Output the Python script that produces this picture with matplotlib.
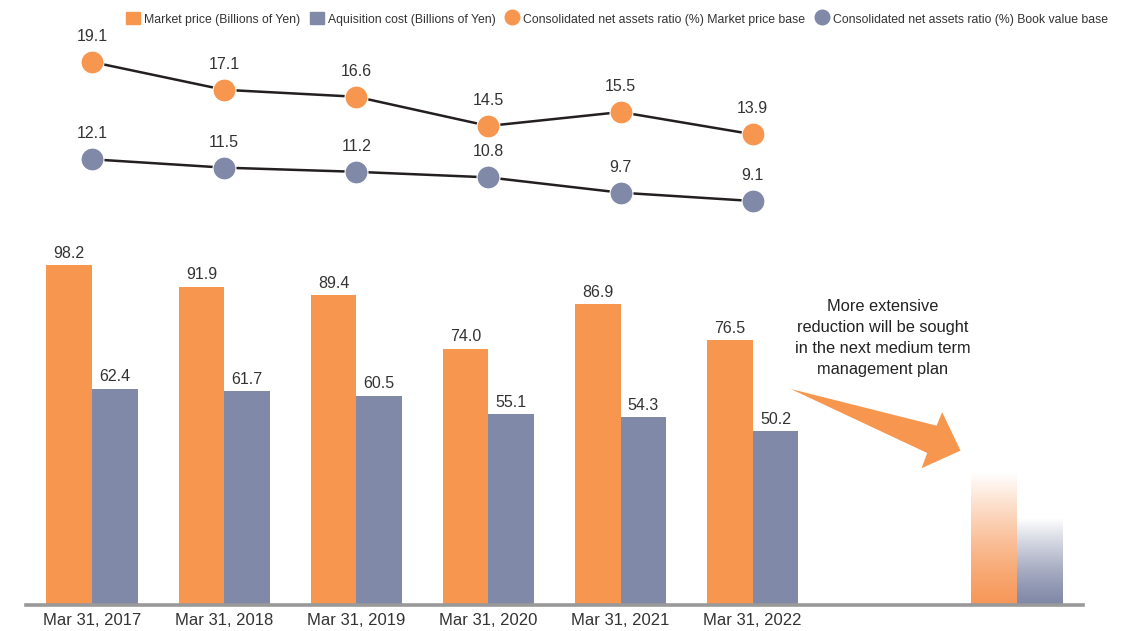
import matplotlib.pyplot as plt
import numpy as np
from matplotlib.patches import Patch, Polygon
from matplotlib.lines import Line2D
from matplotlib.colors import LinearSegmentedColormap

# dados
years = ['Mar 31, 2017', 'Mar 31, 2018', 'Mar 31, 2019',
         'Mar 31, 2020', 'Mar 31, 2021', 'Mar 31, 2022']
market_price = [98.2, 91.9, 89.4, 74.0, 86.9, 76.5]
acquisition_cost = [62.4, 61.7, 60.5, 55.1, 54.3, 50.2]
ratio_market = [19.1, 17.1, 16.6, 14.5, 15.5, 13.9]
ratio_book = [12.1, 11.5, 11.2, 10.8, 9.7, 9.1]
# barras da meta futura (ilustrativas)
target_pos = 7
target_market = 38.4
target_cost = 24.9

ORANGE = '#F7964F'
GRAY = '#8189A8'
TEXT = '#333333'

plt.rcParams['font.family'] = ['Liberation Sans', 'DejaVu Sans']

W, H = 1138, 631
fig = plt.figure(figsize=(W / 100, H / 100), dpi=100)

# eixo das barras
ax = fig.add_axes([26 / W, (H - 605) / H, (1083 - 26) / W, 375 / H])
x = np.arange(len(years))
bw = 0.345
b1 = ax.bar(x - bw / 2, market_price, bw, color=ORANGE)
b2 = ax.bar(x + bw / 2, acquisition_cost, bw, color=GRAY)
for bars in (b1, b2):
    for b in bars:
        ax.text(b.get_x() + b.get_width() / 2, b.get_height() + 1.3,
                f'{b.get_height():.1f}', ha='center', va='bottom',
                fontsize=11.5, color=TEXT)

# barras com degradê
def gradient_bar(x0, h, color):
    cmap = LinearSegmentedColormap.from_list('g', [color, 'white'])
    grad = np.linspace(0, 1, 256).reshape(-1, 1) ** 1.3
    ax.imshow(grad, extent=(x0, x0 + bw, 0, h), origin='lower',
              aspect='auto', cmap=cmap, vmin=0, vmax=1, zorder=2)

gradient_bar(target_pos - bw, target_market, '#F7985A')
gradient_bar(target_pos, target_cost, '#8189A8')

# seta e texto
arrow = Polygon([(5.288, 62.4), (6.392, 51.8), (6.434, 55.7), (6.573, 44.6),
                 (6.278, 39.5), (6.321, 43.9)], closed=True,
                facecolor=ORANGE, edgecolor='none', zorder=3)
ax.add_patch(arrow)
ax.text(5.985, 77.0, 'More extensive\nreduction will be sought\nin the next medium term\nmanagement plan',
        ha='center', va='center', fontsize=11.8, color='#222222',
        linespacing=1.5)

ax.set_xlim(-0.5, 7.5)
ax.set_ylim(0, 375 / 3.462)
ax.set_xticks(x)
ax.set_xticklabels(years, fontsize=12, color=TEXT)
ax.tick_params(axis='x', length=0, pad=6)
ax.set_yticks([])
for s in ('top', 'left', 'right'):
    ax.spines[s].set_visible(False)
ax.spines['bottom'].set_color('#999999')
ax.spines['bottom'].set_linewidth(2.6)

# eixo das linhas
ax2 = fig.add_axes([26 / W, (H - 215) / H, (1083 - 26) / W, 175 / H])
ax2.set_xlim(-0.5, 7.5)
ax2.set_ylim(19.1 - 153 / 13.9, 19.1 + 22 / 13.9)
ax2.axis('off')
for vals, col in ((ratio_market, ORANGE), (ratio_book, GRAY)):
    ax2.plot(x, vals, color='#231F20', lw=1.8, zorder=1)
    ax2.plot(x, vals, 'o', ms=16.5, color=col, mec='white', mew=0.8, zorder=2)
    for xi, v in zip(x, vals):
        ax2.annotate(f'{v:.1f}', (xi, v), xytext=(0, 13), textcoords='offset points',
                     ha='center', va='bottom', fontsize=11.5, color=TEXT)

# legenda
handles = [
    Patch(color=ORANGE, label='Market price (Billions of Yen)'),
    Patch(color=GRAY, label='Aquisition cost (Billions of Yen)'),
    Line2D([], [], ls='none', marker='o', ms=10.5, color=ORANGE,
           label='Consolidated net assets ratio (%) Market price base'),
    Line2D([], [], ls='none', marker='o', ms=10.5, color=GRAY,
           label='Consolidated net assets ratio (%) Book value base'),
]
fig.legend(handles=handles, loc='center', bbox_to_anchor=(617 / W, 1 - 19 / H),
           ncol=4, frameon=False, handlelength=1.1, handleheight=1.1,
           handletextpad=0.35, columnspacing=0.8,
           prop={'size': 8.8}, labelcolor=TEXT)

plt.savefig('out.png', dpi=100)
